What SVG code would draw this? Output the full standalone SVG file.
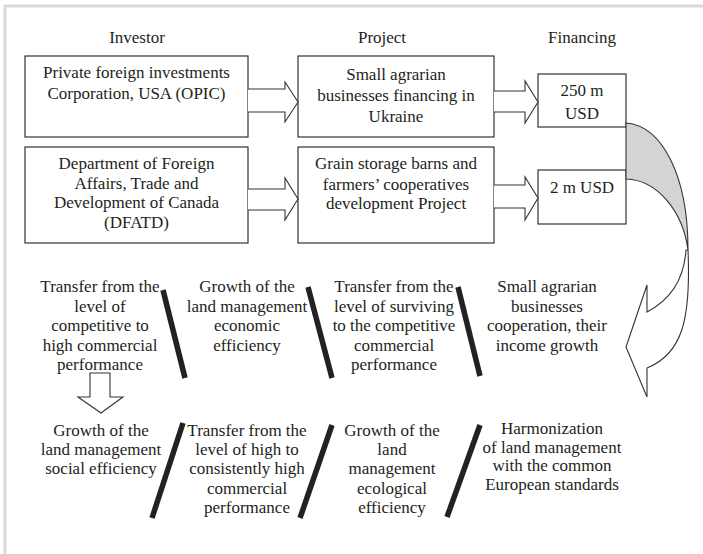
<svg xmlns="http://www.w3.org/2000/svg" width="703" height="554" viewBox="0 0 703 554">
<style>
  text { font-family: "Liberation Serif", "Times New Roman", serif; font-size: 17px; fill: #231f20; text-anchor: middle; }
  .box { fill: #ffffff; stroke: #333333; stroke-width: 1.2; }
  .arrow { fill: #ffffff; stroke: #333333; stroke-width: 1.1; stroke-linejoin: miter; }
  .slash { stroke: #222222; stroke-width: 5.5; stroke-linecap: butt; }
  .frame { stroke: #d9d9d9; stroke-width: 3; fill: none; }
</style>
<rect x="0" y="0" width="703" height="554" fill="#ffffff"/>
<path class="frame" d="M5,554 L5,6 L703,6"/>

<g id="headers">
  <text x="137" y="43">Investor</text>
  <text x="382" y="43">Project</text>
  <text x="582" y="43">Financing</text>
</g>

<g id="investor-opic">
  <rect class="box" x="25" y="56" width="223" height="81"/>
  <text x="136.5" y="78">Private foreign investments</text>
  <text x="136.5" y="99">Corporation, USA (OPIC)</text>
</g>
<g id="investor-dfatd">
  <rect class="box" x="25" y="147" width="223" height="96"/>
  <text x="136.5" y="169">Department of Foreign</text>
  <text x="136.5" y="188.5">Affairs, Trade and</text>
  <text x="136.5" y="208">Development of Canada</text>
  <text x="136.5" y="227.5">(DFATD)</text>
</g>
<g id="project-agrarian">
  <rect class="box" x="298" y="56" width="196" height="81"/>
  <text x="396" y="79.5">Small agrarian</text>
  <text x="396" y="100.5">businesses financing in</text>
  <text x="396" y="122">Ukraine</text>
</g>
<g id="project-grain">
  <rect class="box" x="298" y="147" width="196" height="96"/>
  <text x="396" y="169">Grain storage barns and</text>
  <text x="396" y="189.5">farmers’ cooperatives</text>
  <text x="396" y="209">development Project</text>
</g>
<g id="financing-250">
  <rect class="box" x="538" y="74" width="88" height="53"/>
  <text x="582" y="95.5">250 m</text>
  <text x="582" y="118.5">USD</text>
</g>
<g id="financing-2">
  <rect class="box" x="538" y="170" width="88" height="54"/>
  <text x="582" y="193">2 m USD</text>
</g>

<g id="connectors">
  <path class="arrow" d="M248,89 L285,89 L285,82 L298,102 L285,122 L285,112 L248,112"/>
  <path class="arrow" d="M248,189 L285,189 L285,178 L298,199 L285,220 L285,210 L248,210"/>
  <path class="arrow" d="M494,91 L525,91 L525,81 L538,102 L525,123 L525,112 L494,112"/>
  <path class="arrow" d="M494,185 L525,185 L525,177 L538,198 L525,220 L525,208 L494,208"/>
  <path d="M626,123 C662,126 688,175 688,250 C683,212 658,180 626,179 Z" fill="#d4d4d6" stroke="#333333" stroke-width="1.1"/>
  <path class="arrow" d="M686,250 C684,280 670,300 647,312 L647,285 L626,347 L647,397 L647,368 C682,354 691,320 688,250 Z"/>
  <path class="arrow" d="M90,373 L110,373 L110,397 L123,397 L101,413 L78,397 L90,397 Z"/>
</g>

<g id="separators">
  <line class="slash" x1="163" y1="290" x2="185" y2="378"/>
  <line class="slash" x1="308" y1="287" x2="332" y2="378"/>
  <line class="slash" x1="458" y1="287" x2="480" y2="376"/>
  <line class="slash" x1="183" y1="423" x2="152" y2="518"/>
  <line class="slash" x1="332" y1="425" x2="300" y2="518"/>
  <line class="slash" x1="480" y1="425" x2="447" y2="517"/>
</g>

<g id="result-competitive-to-high">
  <text x="100" y="292">Transfer from the</text>
  <text x="100" y="311.5">level of</text>
  <text x="100" y="331">competitive to</text>
  <text x="100" y="350.5">high commercial</text>
  <text x="100" y="370">performance</text>
</g>
<g id="result-economic-efficiency">
  <text x="247" y="292">Growth of the</text>
  <text x="247" y="311.5">land management</text>
  <text x="247" y="331">economic</text>
  <text x="247" y="350.5">efficiency</text>
</g>
<g id="result-surviving-to-competitive">
  <text x="394" y="292">Transfer from the</text>
  <text x="394" y="311.5">level of surviving</text>
  <text x="394" y="331">to the competitive</text>
  <text x="394" y="350.5">commercial</text>
  <text x="394" y="370">performance</text>
</g>
<g id="result-cooperation">
  <text x="547" y="292">Small agrarian</text>
  <text x="547" y="311.5">businesses</text>
  <text x="547" y="331">cooperation, their</text>
  <text x="547" y="350.5">income growth</text>
</g>
<g id="result-social-efficiency">
  <text x="101" y="435.5">Growth of the</text>
  <text x="101" y="455">land management</text>
  <text x="101" y="474">social efficiency</text>
</g>
<g id="result-high-to-consistent">
  <text x="247" y="435.5">Transfer from the</text>
  <text x="247" y="455">level of high to</text>
  <text x="247" y="474">consistently high</text>
  <text x="247" y="493.5">commercial</text>
  <text x="247" y="512.5">performance</text>
</g>
<g id="result-ecological-efficiency">
  <text x="392" y="435.5">Growth of the</text>
  <text x="392" y="455">land</text>
  <text x="392" y="474">management</text>
  <text x="392" y="493.5">ecological</text>
  <text x="392" y="512.5">efficiency</text>
</g>
<g id="result-harmonization">
  <text x="552" y="434">Harmonization</text>
  <text x="552" y="452.5">of land management</text>
  <text x="552" y="471">with the common</text>
  <text x="552" y="489.5">European standards</text>
</g>
</svg>
